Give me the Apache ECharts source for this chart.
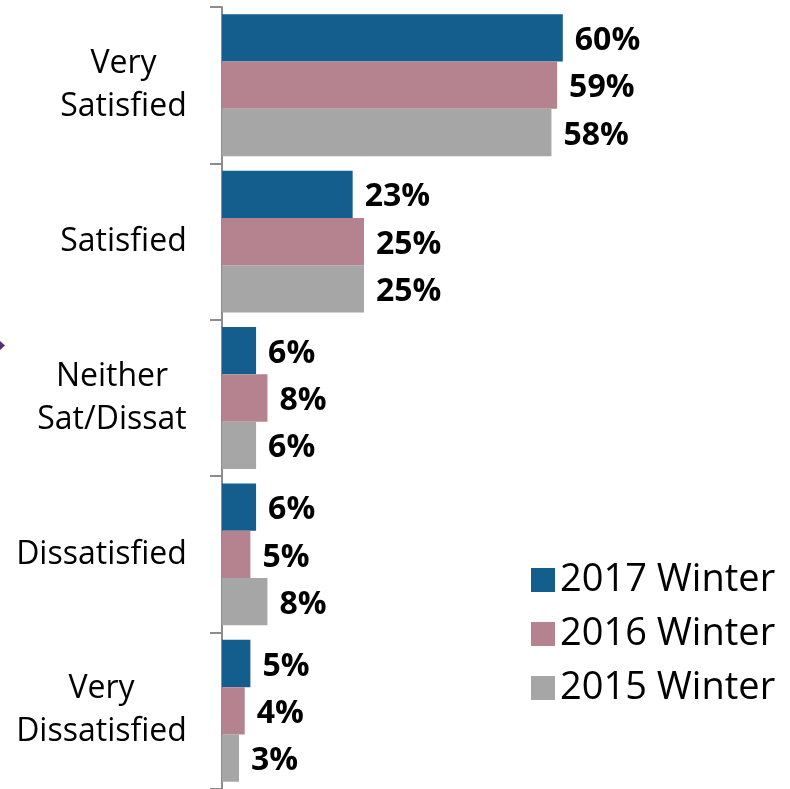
<!DOCTYPE html>
<html>
<head>
<meta charset="utf-8">
<title>Satisfaction</title>
<script src="https://cdn.jsdelivr.net/npm/echarts@6/dist/echarts.min.js"></script>
<style>
    html, body { margin: 0; padding: 0; background: #fff; }
    #main { width: 790px; height: 789px; }
</style>
</head>
<body>
<div id="main"></div>
<script>
var categories = ['Very\nSatisfied', 'Satisfied', 'Neither\nSat/Dissat', 'Dissatisfied', 'Very\nDissatisfied'];
var seriesNames = ['2017 Winter', '2016 Winter', '2015 Winter'];
var winter2017 = [60, 23, 6, 6, 5];
var winter2016 = [59, 25, 8, 5, 4];
var winter2015 = [58, 25, 6, 8, 3];
var colors = ['#135e8c', '#b5838f', '#a6a6a6'];

var catFont = '32px "Open Sans"';

var chartDom = document.getElementById('main');
var myChart = echarts.init(chartDom);

// lines centred in their block, block right-aligned (like Excel)
var ctx = document.createElement('canvas').getContext('2d');
ctx.font = catFont;
var rich = {};
categories.forEach(function (c, i) {
    var w = 0;
    c.split('\n').forEach(function (l) {
        w = Math.max(w, ctx.measureText(l).width);
    });
    rich['c' + i] = {
        width: Math.ceil(w),
        align: 'center',
        fontFamily: 'Open Sans',
        fontSize: 32,
        lineHeight: 43,
        color: '#000'
    };
});

function makeSeries(name, data, color) {
    return {
        name: name,
        type: 'bar',
        data: data,
        barGap: '0%',
        barCategoryGap: '9.3%',
        itemStyle: { color: color },
        label: {
            show: true,
            position: 'right',
            distance: 12,
            offset: [0, 3],
            formatter: '{c}%',
            color: '#000',
            fontFamily: 'Open Sans',
            fontWeight: 'bold',
            fontSize: 32
        },
        silent: true
    };
}

var option;

option = {
    animation: false,
    backgroundColor: '#fff',
    grid: {
        left: 222,
        right: 0,
        top: 7,
        bottom: 0
    },
    legend: {
        orient: 'vertical',
        left: 526,
        top: 556,
        itemWidth: 24,
        itemHeight: 24,
        itemGap: 16,
        icon: 'rect',
        selectedMode: false,
        data: seriesNames,
        textStyle: {
            color: '#000',
            fontFamily: 'Open Sans',
            fontSize: 38
        }
    },
    xAxis: {
        type: 'value',
        min: 0,
        max: 100,
        show: false
    },
    yAxis: {
        type: 'category',
        inverse: true,
        data: categories,
        axisLine: {
            show: true,
            lineStyle: { color: '#8c8c8c', width: 2 }
        },
        axisTick: {
            show: true,
            inside: false,
            length: 12,
            lineStyle: { color: '#8c8c8c', width: 2 }
        },
        axisLabel: {
            align: 'right',
            margin: 35,
            color: '#000',
            fontFamily: 'Open Sans',
            fontSize: 32,
            lineHeight: 43,
            formatter: function (value, index) {
                return value.split('\n').map(function (l) {
                    return '{c' + index + '|' + l + '}';
                }).join('\n');
            },
            rich: rich
        },
        splitLine: { show: false }
    },
    graphic: [
        {
            type: 'polygon',
            shape: { points: [[0, 341], [5, 345.5], [0, 350]] },
            style: { fill: '#5b2c6f' }
        }
    ],
    series: [
        makeSeries(seriesNames[0], winter2017, colors[0]),
        makeSeries(seriesNames[1], winter2016, colors[1]),
        makeSeries(seriesNames[2], winter2015, colors[2])
    ]
};
option && myChart.setOption(option);
</script>
</body>
</html>
